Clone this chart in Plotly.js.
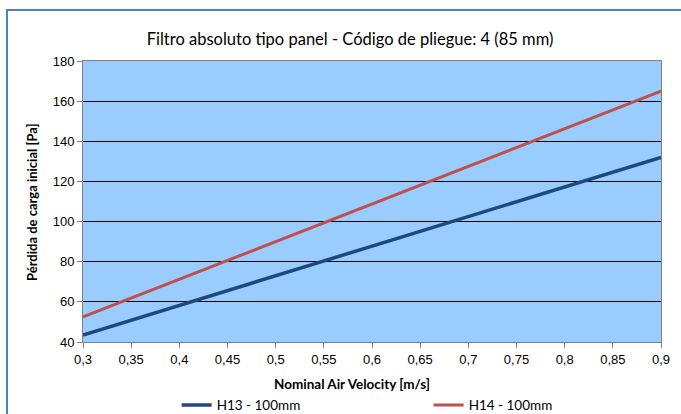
<!DOCTYPE html>
<html><head><meta charset="utf-8">
<script src="https://cdn.plot.ly/plotly-3.0.1.min.js"></script>
<style>
html,body{margin:0;padding:0;background:#fff;}
#wrap{position:relative;width:681px;height:414px;overflow:hidden;}
#chart{width:681px;height:414px;}
#frame{position:absolute;left:6px;top:9px;width:700px;height:430px;border-left:2.5px solid #4F81BD;border-top:2.5px solid #4F81BD;pointer-events:none;}
</style></head>
<body>
<div id="wrap"><div id="chart"></div><div id="frame"></div></div>
<script>
const velocity = [0.3,0.35,0.4,0.45,0.5,0.55,0.6,0.65,0.7,0.75,0.8,0.85,0.9];
const h13 = [43.5,50.9,58.3,65.6,73.0,80.4,87.8,95.1,102.5,109.9,117.3,124.6,132];
const h14 = [52.5,61.9,71.3,80.6,90.0,99.4,108.8,118.1,127.5,136.9,146.3,155.6,165];
const seriesNames = ['H13 - 100mm','H14 - 100mm'];
const xTicks = [0.3,0.35,0.4,0.45,0.5,0.55,0.6,0.65,0.7,0.75,0.8,0.85,0.9];
const xTickText = ['0,3','0,35','0,4','0,45','0,5','0,55','0,6','0,65','0,7','0,75','0,8','0,85','0,9'];
const yTicks = [40,60,80,100,120,140,160,180];
const chartTitle = 'Filtro absoluto tipo panel - Código de pliegue: 4 (85 mm)';
const xTitle = 'Nominal Air Velocity [m/s]';
const yTitle = 'Pérdida de carga inicial [Pa]';

const traces = [
 {x: velocity, y: h13, name: seriesNames[0], mode:'lines', line:{color:'#1F497D', width:3.5}},
 {x: velocity, y: h14, name: seriesNames[1], mode:'lines', line:{color:'#C0504D', width:3}}
];
const titleFont = 'Lato, Open Sans, sans-serif';
const layout = {
 width:681, height:414,
 margin:{l:83, r:20, t:61, b:72, autoexpand:false},
 paper_bgcolor:'#ffffff', plot_bgcolor:'#99CCFF',
 font:{family:'Liberation Sans, Arial, sans-serif', size:13, color:'#000'},
 title:{text:chartTitle, x:0.462, xref:'paper', xanchor:'center', y:0.905, yanchor:'middle', font:{family:titleFont, size:16.5, color:'#000'}},
 xaxis:{range:[0.3,0.9], tickvals:xTicks, ticktext:xTickText, ticks:'outside', ticklen:5, tickcolor:'#808080', showgrid:false, zeroline:false, showline:true, linecolor:'#808080', linewidth:1, mirror:true, tickfont:{size:13}, automargin:false},
 yaxis:{range:[40,180], tickvals:yTicks, ticks:'outside', ticklen:5, tickcolor:'#808080', showgrid:true, gridcolor:'#000', gridwidth:1, zeroline:false, showline:true, linecolor:'#808080', linewidth:1, mirror:true, tickfont:{size:13}, automargin:false},
 annotations:[
  {text:'<b>'+xTitle+'</b>', xref:'paper', yref:'paper', x:(352-83)/578, y:(342-384)/281, xanchor:'center', yanchor:'middle', showarrow:false, font:{family:titleFont, size:13.5}},
  {text:'<b>'+yTitle+'</b>', xref:'paper', yref:'paper', x:(32-83)/578, y:(342-202)/281, xanchor:'center', yanchor:'middle', textangle:-90, showarrow:false, font:{family:titleFont, size:13}}
 ],
 showlegend:true,
 legend:{orientation:'h', x:0.162, xanchor:'left', y:-0.17, yanchor:'top', font:{family:titleFont, size:13.5}, itemwidth:30, tracegroupgap:0, entrywidth:207, bgcolor:'rgba(0,0,0,0)'}
};
Plotly.newPlot('chart', traces, layout, {staticPlot:true});
</script>
</body></html>
